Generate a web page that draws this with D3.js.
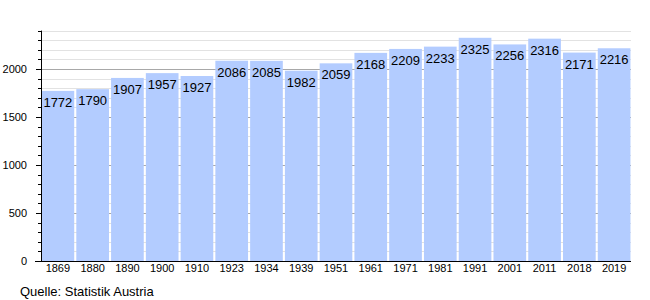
<!DOCTYPE html>
<html><head><meta charset="utf-8">
<script src="https://cdn.jsdelivr.net/npm/d3@7"></script>
<style>body{margin:0;background:#fff}svg{display:block;font-family:"Liberation Sans",Arial,sans-serif}</style>
</head><body>
<script>
const years = ["1869","1880","1890","1900","1910","1923","1934","1939","1951","1961","1971","1981","1991","2001","2011","2018","2019"];
const population = [1772,1790,1907,1957,1927,2086,2085,1982,2059,2168,2209,2233,2325,2256,2316,2171,2216];
const yMax = 2400;
const majorTicks = [0,500,1000,1500,2000];
const source = "Quelle: Statistik Austria";

(function () {
const W = 650, H = 300;
const pLeft = 41, pRight = 631, pTop = 30.6, pBottom = 261;
const svg = d3.select("body").append("svg").attr("width", W).attr("height", H);

const x = d3.scaleBand().domain(years).range([pLeft - 0.5, pRight + 0.5]).paddingInner(0.06).paddingOuter(0.03);
const y = d3.scaleLinear().domain([0, yMax]).range([pBottom, pTop]);

const minor = d3.range(100, yMax + 1, 100).filter(v => v % 500 !== 0);
svg.append("g").selectAll("line").data(minor).join("line")
  .attr("x1", pLeft).attr("x2", pRight)
  .attr("y1", d => Math.round(y(d)) + 0.5).attr("y2", d => Math.round(y(d)) + 0.5)
  .attr("stroke", "#e2e2e2");
svg.append("g").selectAll("line").data(majorTicks.filter(v => v > 0)).join("line")
  .attr("x1", pLeft).attr("x2", pRight)
  .attr("y1", d => Math.round(y(d)) + 0.5).attr("y2", d => Math.round(y(d)) + 0.5)
  .attr("stroke", "#a8a8a8");

svg.append("g").selectAll("rect").data(population).join("rect")
  .attr("x", (d, i) => x(years[i])).attr("width", x.bandwidth())
  .attr("y", d => y(d)).attr("height", d => pBottom - y(d))
  .attr("fill", "#b3ccff");

svg.append("g").selectAll("text").data(population).join("text")
  .attr("x", (d, i) => x(years[i]) + x.bandwidth() / 2)
  .attr("y", d => y(d) + 16)
  .attr("text-anchor", "middle").attr("font-size", 13).attr("fill", "#000")
  .text(d => d);

const ax = svg.append("g");
ax.append("line").attr("x1", pLeft + 0.5).attr("x2", pLeft + 0.5).attr("y1", pTop).attr("y2", pBottom).attr("stroke", "#000");
ax.selectAll("line.t").data(d3.range(0, yMax + 1, 100)).join("line").attr("class", "t")
  .attr("x1", d => d % 500 === 0 ? pLeft - 5 : pLeft - 3).attr("x2", pLeft)
  .attr("y1", d => Math.round(y(d)) + 0.5).attr("y2", d => Math.round(y(d)) + 0.5)
  .attr("stroke", "#000");
ax.selectAll("text").data(majorTicks).join("text")
  .attr("x", 27).attr("y", d => y(d) + 4)
  .attr("text-anchor", "end").attr("font-size", 11).attr("fill", "#000")
  .text(d => d);

svg.append("line").attr("x1", pLeft - 6).attr("x2", pRight).attr("y1", pBottom + 0.5).attr("y2", pBottom + 0.5).attr("stroke", "#000");
svg.append("g").selectAll("text").data(years).join("text")
  .attr("x", d => x(d) + x.bandwidth() / 2).attr("y", 272)
  .attr("text-anchor", "middle").attr("font-size", 11).attr("fill", "#000")
  .text(d => d);

svg.append("text").attr("x", 20).attr("y", 296).attr("font-size", 13).attr("fill", "#000").text(source);
})();
</script>
</body></html>
